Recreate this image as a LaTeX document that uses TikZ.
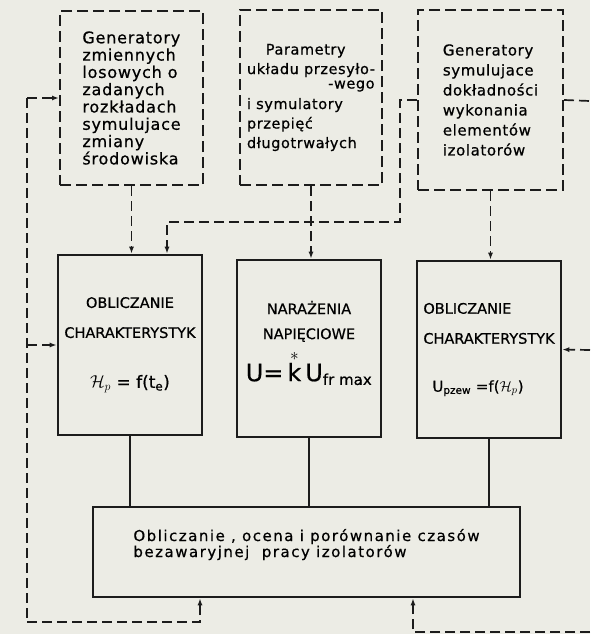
\documentclass[tikz,border=0pt]{standalone}
\usepackage{fontspec}
\setmainfont{DejaVu Sans}[FakeBold=0.6]
\usetikzlibrary{arrows.meta}
\definecolor{paper}{RGB}{236,236,229}
\definecolor{ink}{RGB}{28,28,28}

\begin{document}
\begin{tikzpicture}[x=1pt,y=-1pt,
  genbox/.style={draw=ink,line width=2pt,dash pattern=on 11pt off 5pt,inner sep=0pt},
  calcbox/.style={draw=ink,line width=2.6pt,inner sep=0pt},
  dline/.style={draw=ink,line width=1.7pt,dash pattern=on 10pt off 5pt},
  sline/.style={draw=ink,line width=1.7pt},
  tip/.style={-{Latex[length=7pt,width=5pt]}},
  gtext/.style={font=\fontsize{16}{17.3}\selectfont\addfontfeature{LetterSpace=5}},
  ctext/.style={font=\fontsize{14.5}{30}\selectfont}]
\useasboundingbox[fill=paper] (0,0) rectangle (590,634);

\node[genbox,gtext,minimum width=143pt,minimum height=174pt,align=left] (gen) at (131.5,98)
  {Generatory\\zmiennych\\losowych o\\zadanych\\rozkładach\\symulujace\\zmiany\\środowiska};
\node[genbox,minimum width=142pt,minimum height=175pt,align=left,
  font=\fontsize{14.5}{19.5}\selectfont\addfontfeature{LetterSpace=4}] (par) at (311,97.5)
  {\hspace*{1.3em}Parametry\\układu przesyło-\\[-5pt]\hspace*{5.6em}-wego\\[1pt]i symulatory\\przepięć\\długotrwałych};
\node[genbox,minimum width=145pt,minimum height=180pt,align=left,
  font=\fontsize{15}{20}\selectfont\addfontfeature{LetterSpace=4}] (gdok) at (490.5,100)
  {Generatory\\symulujace\\dokładności\\wykonania\\elementów\\izolatorów};

\node[calcbox,ctext,minimum width=144pt,minimum height=180pt,align=center] (oblp) at (130,345)
  {OBLICZANIE\\CHARAKTERYSTYK\\[20pt]{\fontsize{17}{17}\selectfont $\mathcal{H}_{p}$ = f(t\textsubscript{e})}};
\node[calcbox,minimum width=144pt,minimum height=177pt,align=center,
  font=\fontsize{14.5}{25}\selectfont] (nap) at (309,348.5)
  {NARAŻENIA\\NAPIĘCIOWE\\[9pt]{\fontsize{24}{24}\selectfont U=\,$\stackrel{*}{\mbox{k}}$\,U\textsubscript{\fontsize{15}{15}\selectfont fr max}}\\[-10pt]\mbox{}};
\node[calcbox,ctext,minimum width=144pt,minimum height=177pt,align=left] (oblu) at (489,349.5)
  {OBLICZANIE\\CHARAKTERYSTYK\\[18pt]{\fontsize{15}{15}\selectfont\hspace*{0.6em}U\textsubscript{pzew} =f($\mathcal{H}_{p}$)}};

\node[calcbox,minimum width=427pt,minimum height=90pt,align=left,
  font=\fontsize{15}{16}\selectfont\addfontfeature{LetterSpace=10}] (ocena) at (306.5,552)
  {Obliczanie , ocena i porównanie czasów\\bezawaryjnej \ pracy izolatorów\\[2pt]\mbox{}};

\coordinate (zb) at (400,222);
\coordinate (pr1) at (590,101);
\coordinate (pr2) at (590,350);
\coordinate (pr3) at (590,632);
\coordinate (lt) at (27,98);
\coordinate (lm) at (27,345);
\coordinate (lb) at (27,622);

\draw[dline,tip] (gen.south) -- (gen.south |- oblp.north);
\draw[dline,tip] (par.south) -- (par.south |- nap.north);
\draw[dline,tip] (gdok.south) -- (gdok.south |- oblu.north);
\draw[dline,tip] (gdok.west) -| (zb) -| ([xshift=37pt]oblp.north);
\draw[dline] (gdok.east) -- (pr1);
\draw[dline,tip] (pr2) -- (oblu.east);
\draw[dline,tip] (pr3) -| ([xshift=106.5pt]ocena.south);
\draw[dline] (lt) -- (lb);
\draw[dline,tip] (lt) -- (gen.west);
\draw[dline,tip] (lm) -- (oblp.west);
\draw[dline,tip] (lb) -| ([xshift=-106.5pt]ocena.south);

\draw[sline] (oblp.south) -- (oblp.south |- ocena.north);
\draw[sline] (nap.south) -- (nap.south |- ocena.north);
\draw[sline] (oblu.south) -- (oblu.south |- ocena.north);
\end{tikzpicture}
\end{document}
